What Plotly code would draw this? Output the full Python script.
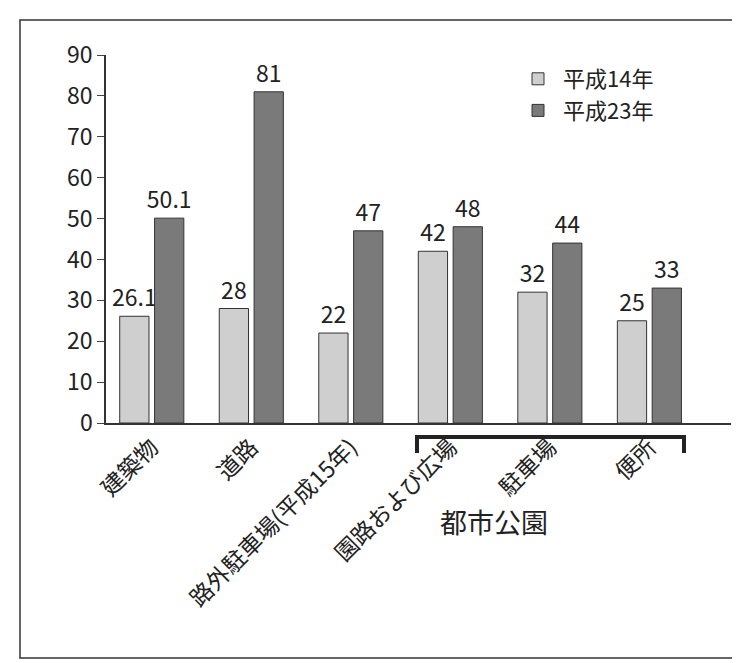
import plotly.graph_objects as go

categories = ["建築物", "道路", "路外駐車場(平成15年)", "園路および広場", "駐車場", "便所"]
h14 = [26.1, 28, 22, 42, 32, 25]
h23 = [50.1, 81, 47, 48, 44, 33]
h14_text = ["26.1", "28", "22", "42", "32", "25"]
h23_text = ["50.1", "81", "47", "48", "44", "33"]

font = "Noto Sans CJK JP"
fig = go.Figure()
fig.add_trace(go.Bar(x=categories, y=h14, name="平成14年", text=h14_text,
                     textposition="outside", cliponaxis=False, constraintext="none",
                     textfont=dict(size=23),
                     marker=dict(color="#cfcfcf", line=dict(color="#333", width=1))))
fig.add_trace(go.Bar(x=categories, y=h23, name="平成23年", text=h23_text,
                     textposition="outside", cliponaxis=False, constraintext="none",
                     textfont=dict(size=23),
                     marker=dict(color="#7a7a7a", line=dict(color="#333", width=1))))

W, H = 740, 663
L, R, T, B = 98, 17, 47, 248
pw, ph = W - L - R, H - T - B

def px(x):
    return (x - L) / pw

def py(y):
    return (H - B - y) / ph

# outer frame
fig.add_shape(type="rect", xref="paper", yref="paper",
              x0=px(12), x1=px(727), y0=py(12), y1=py(650),
              line=dict(color="#333", width=1.5))
# bracket under 都市公園 group
fig.add_shape(type="path", xref="paper", yref="paper",
              path=f"M {px(409)} {py(445)} L {px(409)} {py(429)} L {px(676)} {py(429)} L {px(676)} {py(445)}",
              line=dict(color="#222", width=4))
fig.add_annotation(text="都市公園", xref="paper", yref="paper", x=px(542), y=py(535),
                   showarrow=False, font=dict(size=27, family=font, color="#222"))

fig.update_layout(
    width=W, height=H,
    margin=dict(l=L, r=R, t=T, b=B, autoexpand=False),
    paper_bgcolor="white", plot_bgcolor="white",
    font=dict(family=font, size=22, color="#222"),
    barmode="group", bargap=0.3, bargroupgap=0.16,
    showlegend=True,
    legend=dict(x=px(505), y=py(50), xanchor="left", yanchor="top",
                font=dict(size=22), itemwidth=40, tracegroupgap=10),
    xaxis=dict(range=[-0.46, 5.82], showline=True, linecolor="#333", linewidth=1.5,
               tickangle=-45, ticks="", tickfont=dict(size=23), automargin=False),
    yaxis=dict(range=[0, 90], dtick=10, showline=True, linecolor="#333", linewidth=1.5,
               ticks="outside", ticklen=7, showgrid=False, zeroline=False,
               tickfont=dict(size=23), automargin=False),
)
fig.write_html("out.html")
